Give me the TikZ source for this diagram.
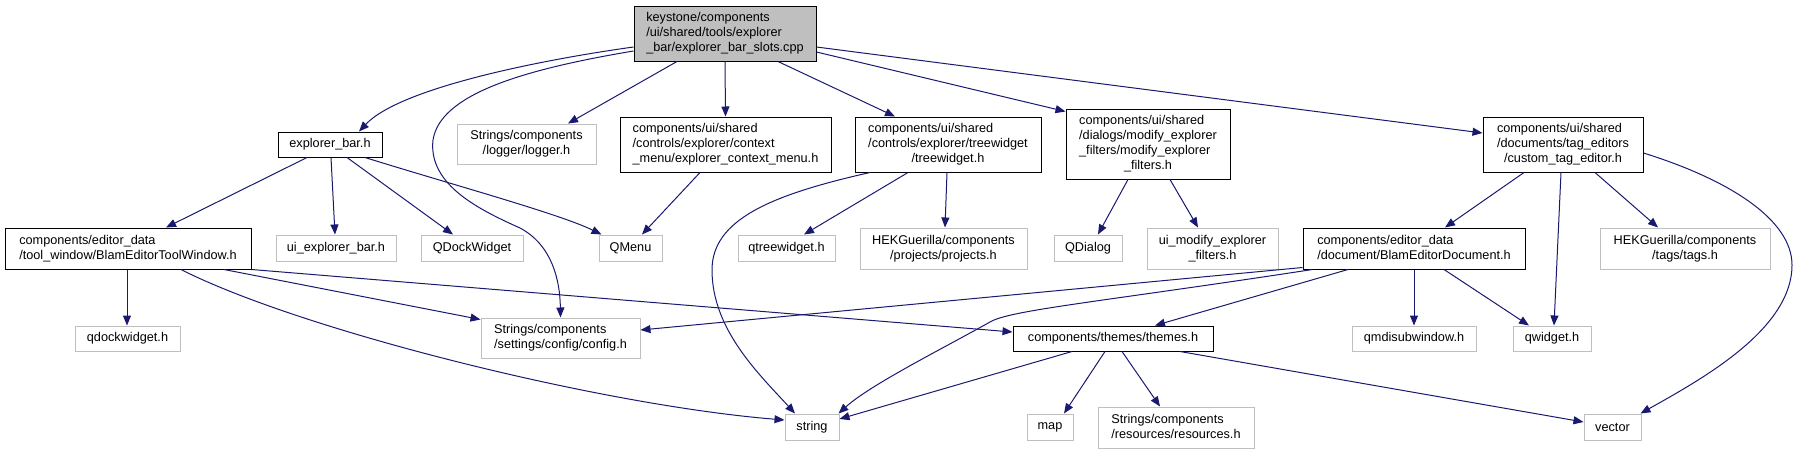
\documentclass[tikz,border=0pt]{standalone}
\usepackage{fontspec}
\setmainfont{Liberation Sans}
\usetikzlibrary{arrows.meta}

\definecolor{edgeblue}{HTML}{191970}
\definecolor{extgray}{HTML}{BFBFBF}
\definecolor{maingray}{HTML}{BFBFBF}

% righe a sinistra, ultima centrata
\newcommand{\flines}[2]{\begin{tabular}{@{}l@{}}#1\multicolumn{1}{@{}c@{}}{#2}\end{tabular}}

\begin{document}
\begin{tikzpicture}[x=1pt, y=-1pt,
    font=\fontsize{12.7}{15}\selectfont,
    box/.style={rectangle, inner sep=0pt, line width=1pt},
    doc/.style={box, draw=black, fill=white},
    ext/.style={box, draw=extgray, fill=white},
    dep/.style={draw=edgeblue, line width=1pt, -{Triangle[length=10pt,width=8pt]}, fill=none}]
    \useasboundingbox (0,0) rectangle (1794,453);

    % Nodi
    \node[box, draw=black, fill=maingray, minimum width=182pt, minimum height=55pt] (main) at (725,33.5)
        {\flines{keystone/components\\/ui/shared/tools/explorer\\}{\_bar/explorer\_bar\_slots.cpp}};

    \node[doc, minimum width=104pt, minimum height=25pt] (explorer) at (330,144.5) {explorer\_bar.h};
    \node[ext, minimum width=139pt, minimum height=40pt] (logger) at (526.5,144) {\flines{Strings/components\\}{/logger/logger.h}};
    \node[doc, minimum width=211pt, minimum height=55pt] (ctxmenu) at (725.5,144.5)
        {\flines{components/ui/shared\\/controls/explorer/context\\}{\_menu/explorer\_context\_menu.h}};
    \node[doc, minimum width=186pt, minimum height=55pt] (treewidget) at (948,144.5)
        {\flines{components/ui/shared\\/controls/explorer/treewidget\\}{/treewidget.h}};
    \node[doc, minimum width=164pt, minimum height=70pt] (modfilters) at (1148,144)
        {\flines{components/ui/shared\\/dialogs/modify\_explorer\\\_filters/modify\_explorer\\}{\_filters.h}};
    \node[doc, minimum width=160pt, minimum height=55pt] (customtag) at (1563,144.5)
        {\flines{components/ui/shared\\/documents/tag\_editors\\}{/custom\_tag\_editor.h}};

    \node[doc, minimum width=246pt, minimum height=41pt] (toolwindow) at (128,248.5)
        {\flines{components/editor\_data\\}{/tool\_window/BlamEditorToolWindow.h}};
    \node[ext, minimum width=120pt, minimum height=26pt] (uiexpl) at (336,248) {ui\_explorer\_bar.h};
    \node[ext, minimum width=102pt, minimum height=26pt] (qdockW) at (472,248) {QDockWidget};
    \node[ext, minimum width=63pt, minimum height=26pt] (qmenu) at (630.5,248) {QMenu};
    \node[ext, minimum width=97pt, minimum height=26pt] (qtree) at (786.5,248) {qtreewidget.h};
    \node[ext, minimum width=167pt, minimum height=41pt] (hekproj) at (943.5,248.5)
        {\flines{HEKGuerilla/components\\}{/projects/projects.h}};
    \node[ext, minimum width=68pt, minimum height=26pt] (qdialog) at (1088,248) {QDialog};
    \node[ext, minimum width=131pt, minimum height=41pt] (uimodify) at (1212.5,248.5)
        {\flines{ui\_modify\_explorer\\}{\_filters.h}};
    \node[doc, minimum width=222pt, minimum height=41pt] (blamdoc) at (1414,248.5)
        {\flines{components/editor\_data\\}{/document/BlamEditorDocument.h}};
    \node[ext, minimum width=170pt, minimum height=41pt] (hektags) at (1685,248.5)
        {\flines{HEKGuerilla/components\\}{/tags/tags.h}};

    \node[ext, minimum width=105pt, minimum height=25pt] (qdockh) at (127.5,338.5) {qdockwidget.h};
    \node[ext, minimum width=159pt, minimum height=40pt] (config) at (560.5,338)
        {\flines{Strings/components\\}{/settings/config/config.h}};
    \node[doc, minimum width=200pt, minimum height=25pt] (themes) at (1113,338.5) {components/themes/themes.h};
    \node[ext, minimum width=124pt, minimum height=25pt] (qmdi) at (1414,338.5) {qmdisubwindow.h};
    \node[ext, minimum width=78pt, minimum height=25pt] (qwidget) at (1552,338.5) {qwidget.h};

    \node[ext, minimum width=54pt, minimum height=26pt] (string) at (812,427) {string};
    \node[ext, minimum width=46pt, minimum height=26pt] (map) at (1050,427) {map};
    \node[ext, minimum width=156pt, minimum height=41pt] (resources) at (1176,427.5)
        {\flines{Strings/components\\}{/resources/resources.h}};
    \node[ext, minimum width=57pt, minimum height=26pt] (vector) at (1612.5,427) {vector};

    % Archi dal file principale
    \draw[dep] ([yshift=-13.5pt]main.west) .. controls (540,60) and (400,88) .. ([xshift=29pt]explorer.north);
    \draw[dep] ([yshift=-17.5pt]main.west) .. controls (520,70) and (440,95) .. (433,140)
        .. controls (428,185) and (480,210) .. (520,228)
        .. controls (552,245) and (560,280) .. (config.north);
    \draw[dep] ([xshift=-48pt]main.south) -- ([xshift=41.5pt]logger.north);
    \draw[dep] (main.south) -- (ctxmenu.north);
    \draw[dep] ([xshift=53pt]main.south) -- ([xshift=-53pt]treewidget.north);
    \draw[dep] ([yshift=-18.5pt]main.east) -- ([yshift=-3pt]modfilters.north west);
    \draw[dep] ([yshift=-13.5pt]main.east) -- ([yshift=11.5pt]customtag.west);

    % explorer_bar.h
    \draw[dep] ([xshift=-23pt]explorer.south) -- ([xshift=38pt]toolwindow.north);
    \draw[dep] ([xshift=1pt]explorer.south) -- ([xshift=-1pt]uiexpl.north);
    \draw[dep] ([xshift=17pt]explorer.south) -- ([xshift=-19pt]qdockW.north);
    \draw[dep] ([xshift=35pt]explorer.south) .. controls (450,184) and (560,214) .. ([xshift=3pt]qmenu.north west);

    % context menu
    \draw[dep] ([xshift=-25.5pt]ctxmenu.south) -- ([xshift=11.5pt]qmenu.north);

    % treewidget.h
    \draw[dep] ([xshift=-78pt]treewidget.south) .. controls (770,195) and (712,220) .. (712,270)
        .. controls (712,330) and (760,375) .. ([xshift=-17pt]string.north);
    \draw[dep] ([xshift=-40pt]treewidget.south) -- ([xshift=17.5pt]qtree.north);
    \draw[dep] ([xshift=-1pt]treewidget.south) -- ([xshift=1.5pt]hekproj.north);

    % modify_explorer_filters.h
    \draw[dep] ([xshift=-20pt]modfilters.south) -- ([xshift=10pt]qdialog.north);
    \draw[dep] ([xshift=22pt]modfilters.south) -- ([xshift=-14.5pt]uimodify.north);

    % custom_tag_editor.h
    \draw[dep] ([xshift=-39pt]customtag.south) -- ([xshift=31pt]blamdoc.north);
    \draw[dep] ([xshift=-2pt]customtag.south) -- ([xshift=2pt]qwidget.north);
    \draw[dep] ([xshift=32pt]customtag.south) -- ([xshift=-27pt]hektags.north);
    \draw[dep] ([yshift=-8.5pt]customtag.east) .. controls (1730,180) and (1792,220) .. (1792,265)
        .. controls (1792,330) and (1700,380) .. ([xshift=-1pt]vector.north east);

    % BlamEditorToolWindow.h
    \draw[dep] ([xshift=-1pt]toolwindow.south) -- ([xshift=-0.5pt]qdockh.north);
    \draw[dep] ([xshift=96pt]toolwindow.south) -- ([yshift=-2pt]config.north west);
    \draw[dep] ([xshift=53pt]toolwindow.south) .. controls (300,330) and (600,405) .. ([yshift=7pt]string.west);
    \draw[dep] (toolwindow.south east) -- ([yshift=6.5pt]themes.west);

    % BlamEditorDocument.h
    \draw[dep] ([yshift=2pt]blamdoc.south west) -- ([yshift=8pt]config.east);
    \draw[dep] ([xshift=10pt]blamdoc.south west) .. controls (1100,302) and (1010,310) .. (990,322)
        .. controls (940,350) and (870,385) .. ([xshift=-1pt]string.north east);
    \draw[dep] ([xshift=-66pt]blamdoc.south) -- ([xshift=42pt]themes.north);
    \draw[dep] (blamdoc.south) -- (qmdi.north);
    \draw[dep] ([xshift=30pt]blamdoc.south) -- ([xshift=-23pt]qwidget.north);

    % themes.h
    \draw[dep] ([xshift=-41pt]themes.south) -- ([yshift=8pt]string.east);
    \draw[dep] ([xshift=-8pt]themes.south) -- ([xshift=14pt]map.north);
    \draw[dep] ([xshift=9pt]themes.south) -- ([xshift=-16pt]resources.north);
    \draw[dep] ([xshift=67pt]themes.south) -- ([yshift=5pt]vector.west);
\end{tikzpicture}
\end{document}
